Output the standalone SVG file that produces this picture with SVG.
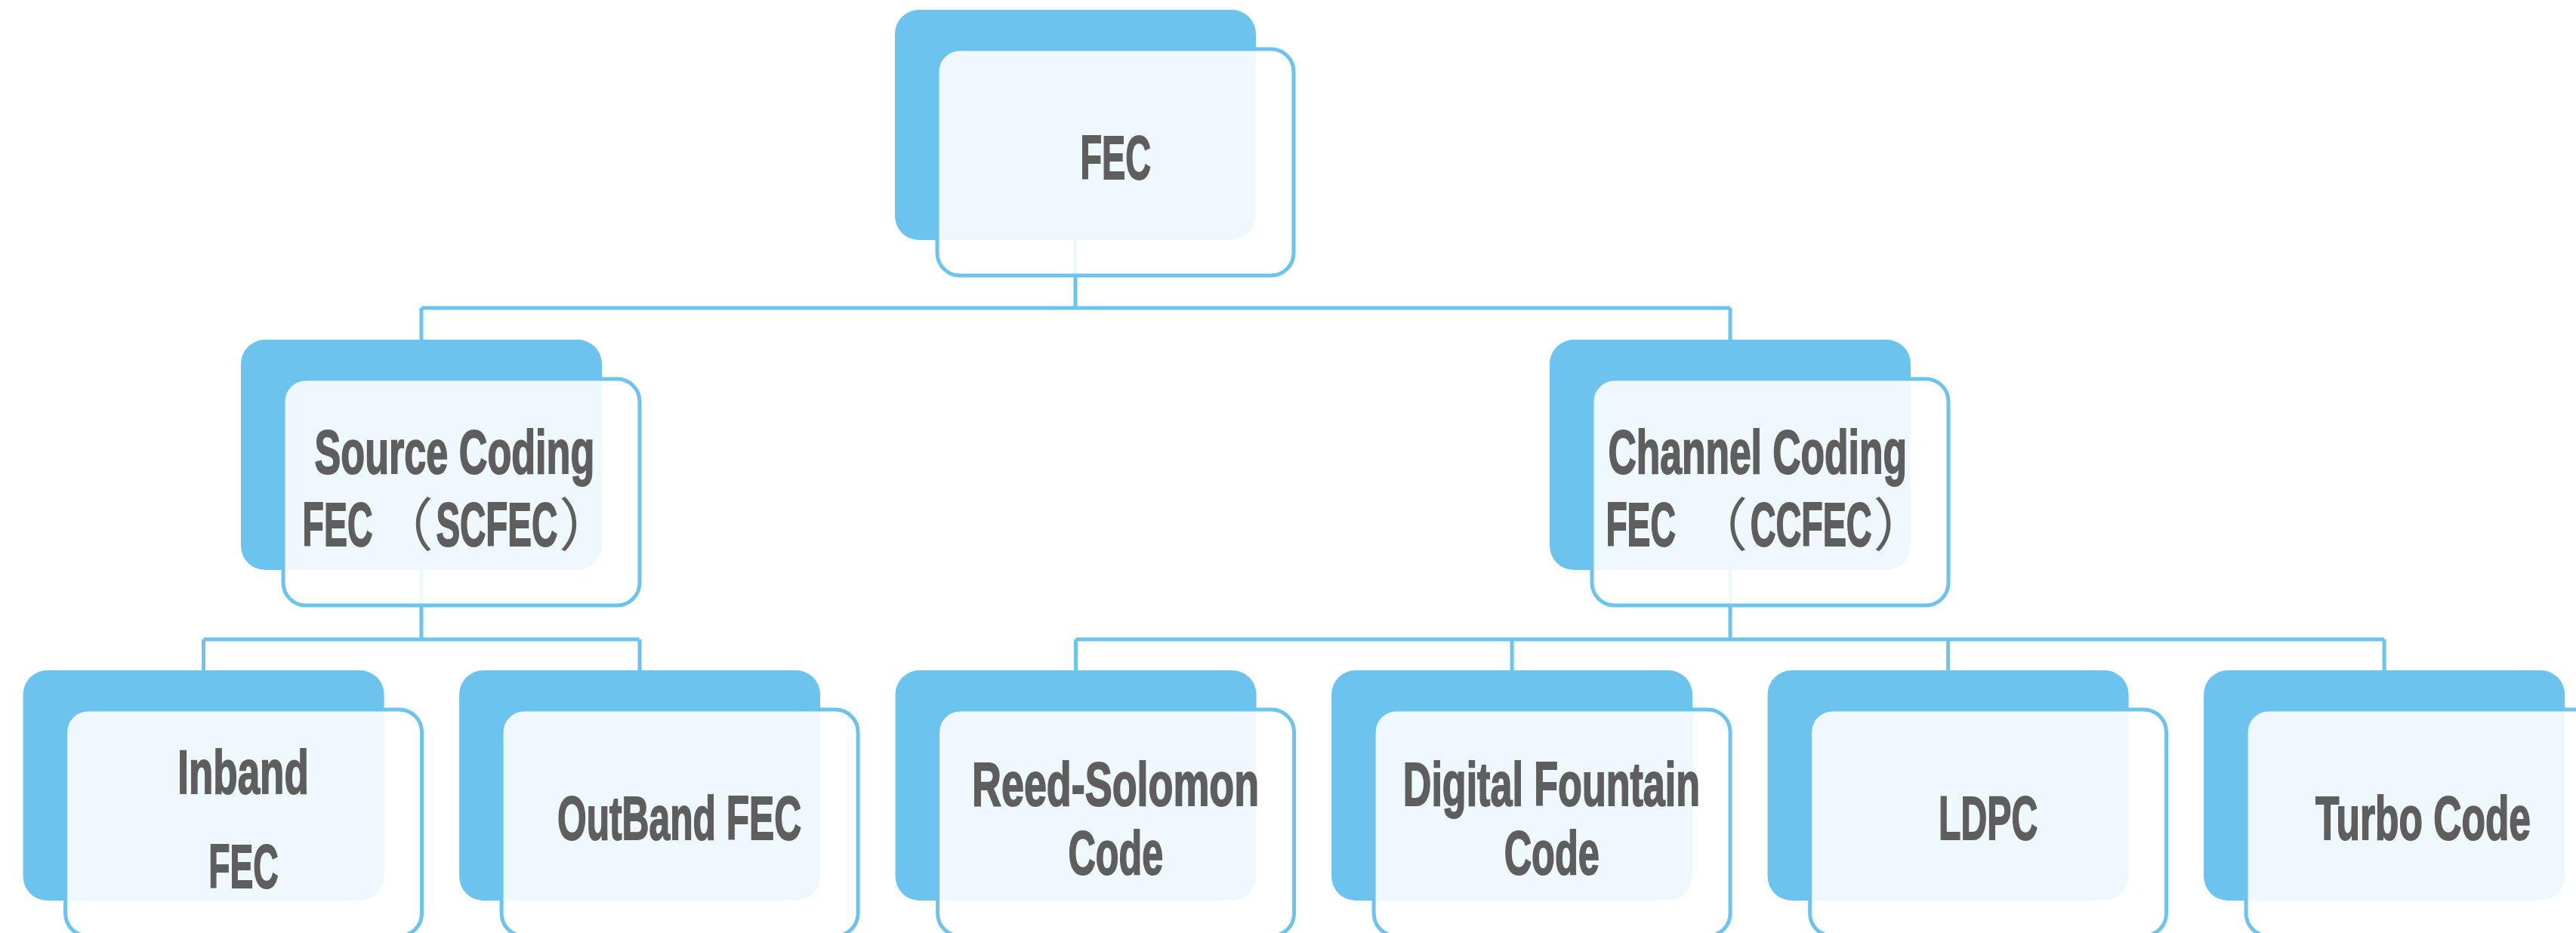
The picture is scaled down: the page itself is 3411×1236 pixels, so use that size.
<svg xmlns="http://www.w3.org/2000/svg" width="3411" height="1236" viewBox="0 0 3411 1236">
<style>
.back{fill:#6BC3EE}
.front{fill:#FFFFFF;fill-opacity:0.89;stroke:#6BC3EE;stroke-width:5}
.lbl{font-family:"Liberation Sans","Noto Sans CJK SC",sans-serif;font-weight:bold;font-size:82px;fill:#5E5E5E;stroke:#5E5E5E;stroke-width:2}
.par{font-family:"Noto Sans CJK SC",sans-serif;font-weight:normal;font-size:76px;stroke:none}
.conn{stroke:#6BC3EE;stroke-width:5;fill:none}
</style>
<rect width="3411" height="1236" fill="#FFFFFF"/>
<g id="connectors" class="conn">
<path d="M1424 165V408M558 408H2291M558 408V600M2291 408V600"/>
<path d="M558 600V847M269.6 847H846.6M2291 600V847M1424.6 847H3157.1"/>
<path d="M269.6 847V900M847.1 847V900M1424.6 847V900M2002.1 847V900M2579.6 847V900M3157.1 847V900"/>
</g>
<g id="node-fec">
<rect class="back" x="1185" y="13" width="478" height="305" rx="32"/>
<rect class="front" x="1241" y="65" width="472" height="300" rx="30"/>
<text class="lbl" x="1430.5" y="237" textLength="93.5" lengthAdjust="spacingAndGlyphs">FEC</text>
</g>
<g id="node-scfec">
<rect class="back" x="319" y="450" width="478" height="305" rx="32"/>
<rect class="front" x="375" y="502" width="472" height="300" rx="30"/>
<text class="lbl" x="416.6" y="626.7" textLength="370.7" lengthAdjust="spacingAndGlyphs">Source Coding</text>
<text class="lbl" y="722.7"><tspan x="400.6" textLength="92.8" lengthAdjust="spacingAndGlyphs">FEC</tspan><tspan class="par" x="481"> （</tspan><tspan x="577.4" textLength="160.9" lengthAdjust="spacingAndGlyphs">SCFEC</tspan><tspan class="par" x="740">）</tspan></text>
</g>
<g id="node-ccfec">
<rect class="back" x="2052" y="450" width="478" height="305" rx="32"/>
<rect class="front" x="2108" y="502" width="472" height="300" rx="30"/>
<text class="lbl" x="2129.4" y="626.7" textLength="395.6" lengthAdjust="spacingAndGlyphs">Channel Coding</text>
<text class="lbl" y="722.7"><tspan x="2126.4" textLength="92.4" lengthAdjust="spacingAndGlyphs">FEC</tspan><tspan class="par" x="2221.5"> （</tspan><tspan x="2317.7" textLength="160.9" lengthAdjust="spacingAndGlyphs">CCFEC</tspan><tspan class="par" x="2480.3">）</tspan></text>
</g>
<g id="node-inband">
<rect class="back" x="30.6" y="888" width="478" height="305" rx="32"/>
<rect class="front" x="86.6" y="940" width="472" height="300" rx="30"/>
<text class="lbl" x="235.3" y="1050.7" textLength="173.5" lengthAdjust="spacingAndGlyphs">Inband</text>
<text class="lbl" x="276.2" y="1175.7" textLength="92.4" lengthAdjust="spacingAndGlyphs">FEC</text>
</g>
<g id="node-outband">
<rect class="back" x="608.1" y="888" width="478" height="305" rx="32"/>
<rect class="front" x="664.1" y="940" width="472" height="300" rx="30"/>
<text class="lbl" x="738" y="1112.3" textLength="323.1" lengthAdjust="spacingAndGlyphs">OutBand FEC</text>
</g>
<g id="node-rs">
<rect class="back" x="1185.6" y="888" width="478" height="305" rx="32"/>
<rect class="front" x="1241.6" y="940" width="472" height="300" rx="30"/>
<text class="lbl" x="1287" y="1067.3" textLength="380.2" lengthAdjust="spacingAndGlyphs">Reed-Solomon</text>
<text class="lbl" x="1414.4" y="1158.3" textLength="125.7" lengthAdjust="spacingAndGlyphs">Code</text>
</g>
<g id="node-df">
<rect class="back" x="1763.1" y="888" width="478" height="305" rx="32"/>
<rect class="front" x="1819.1" y="940" width="472" height="300" rx="30"/>
<text class="lbl" x="1857.8" y="1067.3" textLength="393.2" lengthAdjust="spacingAndGlyphs">Digital Fountain</text>
<text class="lbl" x="1991.7" y="1158.3" textLength="126.1" lengthAdjust="spacingAndGlyphs">Code</text>
</g>
<g id="node-ldpc">
<rect class="back" x="2340.6" y="888" width="478" height="305" rx="32"/>
<rect class="front" x="2396.6" y="940" width="472" height="300" rx="30"/>
<text class="lbl" x="2567.1" y="1112.3" textLength="131.1" lengthAdjust="spacingAndGlyphs">LDPC</text>
</g>
<g id="node-turbo">
<rect class="back" x="2918.1" y="888" width="478" height="305" rx="32"/>
<rect class="front" x="2974.1" y="940" width="472" height="300" rx="30"/>
<text class="lbl" x="3066" y="1112.3" textLength="285" lengthAdjust="spacingAndGlyphs">Turbo Code</text>
</g>
</svg>
